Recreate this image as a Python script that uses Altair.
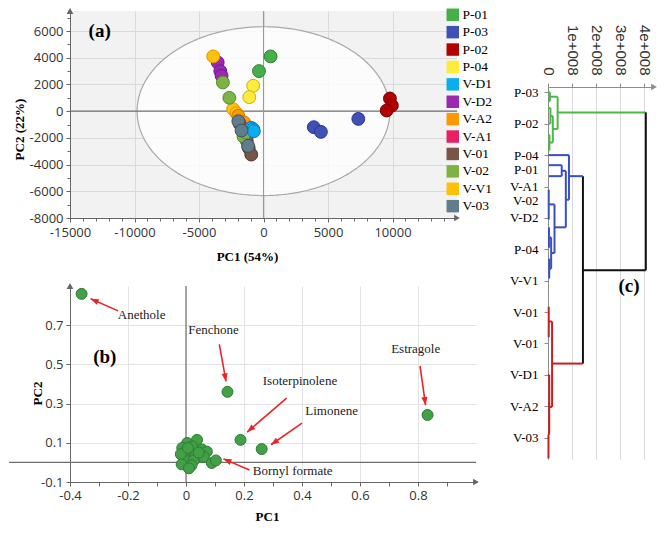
import json
import math
import numpy as np
import pandas as pd
import altair as alt

SANS = "Open Sans"
SERIF = "Liberation Serif"

# ---------------- Panel (a): PCA score plot ----------------
group_names = ["P-01", "P-03", "P-02", "P-04", "V-D1", "V-D2", "V-A2", "V-A1", "V-01", "V-02", "V-V1", "V-03"]
group_fill = ["#45B04A", "#3F51B5", "#B20000", "#FFEB3B", "#0AAEEF", "#9C27B0",
              "#FF9800", "#E91E63", "#795548", "#7CB342", "#FFC107", "#607D8B"]
group_edge = ["#2E7D32", "#283593", "#7A0000", "#C9B200", "#0277BD", "#6A1B9A",
              "#D86A00", "#AD1457", "#4E342E", "#558B2F", "#D99A00", "#3E535E"]

score_group = ["P-01", "P-01", "P-03", "P-03", "P-03", "P-02", "P-02", "P-02",
               "P-04", "P-04", "V-D2", "V-D2", "V-D2", "V-V1", "V-V1", "V-V1",
               "V-02", "V-02", "V-A2", "V-A2", "V-A1", "V-A1", "V-01", "V-01", "V-01",
               "V-02", "V-02", "V-D1", "V-D1", "V-D1", "V-03", "V-03", "V-03"]
score_pc1 = [550, -350, 3900, 4450, 7350, 9800, 9950, 9550,
             -800, -1100, -3550, -3350, -3250, -3900, -2350, -2100,
             -3150, -2650, -1950, -1500, -1850, -1600, -1300, -1150, -950,
             -1550, -1400, -950, -800, -750, -1950, -1700, -1200]
score_pc2 = [4100, 3000, -1200, -1550, -580, 950, 420, 50,
             1900, 1050, 3650, 3000, 2650, 4100, 150, -150,
             2150, 1000, -350, -850, -950, -1300, -2200, -2750, -3250,
             -1900, -1600, -1250, -1350, -1500, -750, -1450, -2600]

ellipse_semi_pc1 = 9800
ellipse_semi_pc2 = 6320

# ---------------- Panel (b): loadings ----------------
load_pc1 = [-0.36, 0.143, 0.188, 0.261, 0.833, 0.038, 0.004, -0.013, 0.021, 0.055,
            0.072, 0.05, 0.033, 0.016, 0.0, -0.006, -0.006, 0.008, 0.004, 0.027,
            0.061, 0.089, 0.103, -0.018, 0.007, 0.044, 0.019, -0.015, 0.01]
load_pc2 = [0.86, 0.36, 0.115, 0.068, 0.242, 0.115, 0.099, 0.074, 0.082, 0.066,
            0.055, 0.034, 0.026, 0.042, 0.058, 0.026, -0.003, -0.022, 0.006, 0.01,
            0.029, -0.003, 0.01, 0.042, 0.074, 0.05, -0.015, -0.01, -0.03]

ann_label = ["Anethole", "Fenchone", "Isoterpinolene", "Limonene", "Bornyl formate", "Estragole"]
ann_text_x = [-0.153, 0.095, 0.393, 0.502, 0.368, 0.792]
ann_text_y = [0.752, 0.676, 0.413, 0.26, -0.045, 0.58]
arrow_x1 = [-0.234, 0.115, 0.347, 0.40, 0.219, 0.807]
arrow_y1 = [0.773, 0.602, 0.328, 0.20, -0.039, 0.493]
arrow_x2 = [-0.329, 0.138, 0.211, 0.293, 0.129, 0.826]
arrow_y2 = [0.835, 0.413, 0.155, 0.09, 0.018, 0.292]

# ---------------- Panel (c): dendrogram (x in 1e8 units, y in leaf slots) ----------------
seg_x1 = [0.40, 0.40, 0.08, 0.08, 0.00, 0.02, 0.20, 0.20, 0.10, 0.10, 0.00, 0.03, 0.06, 0.06, 0.00, 0.00,
          4.06, 1.45, 1.45,
          0.87, 0.87, 0.02, 0.74, 0.74, 0.57, 0.57, 0.04, 0.04, 0.27, 0.27, 0.04, 0.03, 0.13, 0.13, 0.04, 0.05, 0.05, 0.04,
          0.17, 0.17, 0.03, 0.03, 0.03, 0.05, 0.02, 0.00, 0.00]
seg_x2 = [4.06, 0.40, 0.40, 0.08, 0.08, 0.08, 0.40, 0.20, 0.20, 0.10, 0.10, 0.10, 0.20, 0.06, 0.06, 0.06,
          4.06, 4.06, 1.45,
          1.45, 0.87, 0.87, 0.87, 0.74, 0.74, 0.57, 0.57, 0.57, 0.74, 0.27, 0.27, 0.03, 0.27, 0.13, 0.13, 0.13, 0.05, 0.04,
          1.45, 0.17, 0.17, 0.17, 0.03, 0.05, 0.02, 0.05, 0.05]
seg_k1 = [0.64, 0.14, 0.14, 0.00, 0.00, 0.28, 1.17, 0.75, 0.75, 0.50, 0.50, 1.00, 1.60, 1.35, 1.35, 1.85,
          0.64, 5.67, 2.67,
          2.67, 2.00, 2.00, 3.42, 2.50, 2.50, 2.32, 2.32, 2.67, 4.30, 3.57, 3.57, 3.10, 5.12, 4.62, 4.62, 5.62, 5.30, 4.30,
          8.64, 7.30, 7.30, 10.02, 6.83, 9.00, 10.90, 9.00, 10.90]
seg_k2 = [0.64, 1.17, 0.14, 0.28, 0.00, 0.28, 1.17, 1.60, 0.75, 1.00, 0.50, 1.00, 1.60, 1.85, 1.35, 1.85,
          5.67, 5.67, 8.64,
          2.67, 3.42, 2.00, 3.42, 4.30, 2.50, 2.67, 2.32, 2.67, 4.30, 5.12, 3.57, 4.05, 5.12, 5.62, 4.62, 5.62, 5.93, 4.95,
          8.64, 10.02, 7.30, 10.02, 7.80, 10.90, 11.66, 9.00, 10.90]
seg_branch = (["green"] * 16 + ["black"] * 3 + ["blue"] * 19 + ["red"] * 9)
branch_color = {"green": "#4DB848", "black": "#111111", "blue": "#3A4FC4", "red": "#C81E1E"}

leaf_pos = [0, 1, 2, 2.47, 3, 3.44, 4, 5, 6, 7, 8, 9, 10, 11]
leaf_name = ["P-03", "P-02", "P-04", "P-01", "V-A1", "V-02", "V-D2", "P-04", "V-V1", "V-01",
             "V-01", "V-D1", "V-A2", "V-03"]
dist_ticks = [0, 1e8, 2e8, 3e8, 4e8]

# ---------------- sizes ----------------
A_W, A_H = 387, 207
B_W, B_H = 406, 196
C_W, C_H = 106, 372

AXIS_GREY = "#666666"
NO_OVERLAP = {"expr": "false"}

# ================= Panel (a) =================
a_df = pd.DataFrame({"group": score_group, "pc1": score_pc1, "pc2": score_pc2})
xa = alt.Scale(domain=[-15000, 15000], nice=False, zero=False)
ya = alt.Scale(domain=[-8000, 7500], nice=False, zero=False)

a_xaxis = alt.Axis(
    values=list(range(-15000, 14001, 1000)),
    labelExpr="datum.value % 5000 === 0 ? '' + datum.value : ''",
    tickSize={"condition": {"test": "datum.value % 5000 === 0", "value": 4}, "value": 3},
    gridOpacity={"condition": {"test": "datum.value % 5000 === 0", "value": 1}, "value": 0},
    grid=True, gridColor="#dadada", domainColor=AXIS_GREY, tickColor=AXIS_GREY,
    labelFont=SANS, labelFontSize=13, labelColor="#333333", labelPadding=4,
    labelFlush=False, labelOverlap=NO_OVERLAP,
    title="PC1 (54%)", titleFont=SERIF, titleFontSize=13, titleFontWeight="bold",
    titleColor="black", titleX=177, titleY=38, titleBaseline="middle",
)
a_yaxis = alt.Axis(
    values=list(range(-8000, 7001, 1000)),
    labelExpr="datum.value % 2000 === 0 ? '' + datum.value : ''",
    tickSize={"condition": {"test": "datum.value % 2000 === 0", "value": 4}, "value": 3},
    gridOpacity={"condition": {"test": "datum.value % 2000 === 0", "value": 1}, "value": 0},
    grid=True, gridColor="#dadada", domainColor=AXIS_GREY, tickColor=AXIS_GREY,
    labelFont=SANS, labelFontSize=13, labelColor="#333333", labelPadding=3,
    labelFlush=False, labelOverlap=NO_OVERLAP,
    title="PC2 (22%)", titleFont=SERIF, titleFontSize=13, titleFontWeight="bold",
    titleColor="black", titleX=-51, titleY=118, titleBaseline="middle",
)

t_half = np.linspace(0, np.pi, 181)
ell_fill_df = pd.DataFrame({
    "x": ellipse_semi_pc1 * np.cos(t_half),
    "y": ellipse_semi_pc2 * np.sin(t_half),
    "y2": -ellipse_semi_pc2 * np.sin(t_half),
})
t_full = np.linspace(0, 2 * np.pi, 361)
ell_line_df = pd.DataFrame({
    "x": ellipse_semi_pc1 * np.cos(t_full),
    "y": ellipse_semi_pc2 * np.sin(t_full),
    "i": np.arange(len(t_full)),
})

a_axes_layer = alt.Chart(pd.DataFrame({"x": [0], "y": [0]})).mark_point(opacity=0).encode(
    x=alt.X("x:Q", scale=xa, axis=a_xaxis),
    y=alt.Y("y:Q", scale=ya, axis=a_yaxis),
)
a_ell_fill = alt.Chart(ell_fill_df).mark_area(color="white", opacity=0.78).encode(
    x=alt.X("x:Q", scale=xa, axis=a_xaxis), y=alt.Y("y:Q", scale=ya, axis=a_yaxis), y2="y2:Q"
)
a_ell_line = alt.Chart(ell_line_df).mark_line(color="#a8a8a8", strokeWidth=1.2).encode(
    x=alt.X("x:Q", scale=xa, axis=a_xaxis), y=alt.Y("y:Q", scale=ya, axis=a_yaxis), order="i:Q"
)
a_zero_h = alt.Chart(pd.DataFrame({"y": [0]})).mark_rule(color="#6e6e6e", strokeWidth=1.3).encode(
    y=alt.Y("y:Q", scale=ya, axis=a_yaxis)
)
a_zero_v = alt.Chart(pd.DataFrame({"x": [0]})).mark_rule(color="#9a9a9a", strokeWidth=1.1).encode(
    x=alt.X("x:Q", scale=xa, axis=a_xaxis)
)
a_points = alt.Chart(a_df).mark_circle(size=165, opacity=1, strokeWidth=1).encode(
    x=alt.X("pc1:Q", scale=xa, axis=a_xaxis),
    y=alt.Y("pc2:Q", scale=ya, axis=a_yaxis),
    fill=alt.Fill("group:N", scale=alt.Scale(domain=group_names, range=group_fill),
                  legend=alt.Legend(title=None, orient="none", legendX=376, legendY=-3,
                                    symbolType="square", symbolSize=155, symbolStrokeWidth=0,
                                    symbolOpacity=1, labelFont=SERIF, labelFontSize=13.5,
                                    labelColor="black", rowPadding=2.4, padding=0, labelOffset=3)),
    stroke=alt.Stroke("group:N", scale=alt.Scale(domain=group_names, range=group_edge), legend=None),
)
a_arrows = alt.Chart(pd.DataFrame({"x": [-15000, 15000], "y": [7500, -8000],
                                   "s": ["triangle-up", "triangle-right"]})).mark_point(
    filled=True, opacity=1, color=AXIS_GREY, size=45).encode(
    x=alt.X("x:Q", scale=xa, axis=a_xaxis), y=alt.Y("y:Q", scale=ya, axis=a_yaxis),
    shape=alt.Shape("s:N", scale=None),
)
a_tag = alt.Chart(pd.DataFrame({"x": [-12700], "y": [6000], "t": ["(a)"]})).mark_text(
    font=SERIF, fontSize=19, fontWeight="bold", color="black").encode(
    x=alt.X("x:Q", scale=xa, axis=a_xaxis), y=alt.Y("y:Q", scale=ya, axis=a_yaxis), text="t:N"
)

a_chart = alt.layer(a_axes_layer, a_ell_fill, a_ell_line, a_zero_h, a_zero_v, a_points,
                    a_arrows, a_tag).properties(
    width=A_W, height=A_H, view=alt.ViewBackground(fill="#F2F2F2", strokeWidth=0))

# ================= Panel (b) =================
xb = alt.Scale(domain=[-0.4, 1.0], nice=False, zero=False)
yb = alt.Scale(domain=[-0.1, 0.9], nice=False, zero=False)
b_xvals = [-0.4, -0.3, -0.2, -0.1, 0, 0.1, 0.2, 0.3, 0.4, 0.5, 0.6, 0.7, 0.8, 0.9]
b_yvals = [-0.1, 0.1, 0.3, 0.5, 0.7]

b_xaxis = alt.Axis(
    values=b_xvals,
    labelExpr="abs(round(datum.value * 10)) % 2 === 0 ? '' + datum.value : ''",
    tickSize=4,
    gridOpacity={"condition": {"test": "abs(round(datum.value * 10)) % 2 === 0", "value": 1}, "value": 0},
    grid=True, gridColor="#e3e3e3", domainColor=AXIS_GREY, tickColor=AXIS_GREY,
    labelFont=SANS, labelFontSize=13, labelColor="#333333", labelPadding=3,
    labelFlush=False, labelOverlap=NO_OVERLAP,
    title="PC1", titleFont=SERIF, titleFontSize=13, titleFontWeight="bold",
    titleColor="black", titleX=197, titleY=34, titleBaseline="middle",
)
b_yaxis = alt.Axis(
    values=b_yvals, labelExpr="'' + datum.value", tickSize=4,
    grid=True, gridColor="#e3e3e3", domainColor=AXIS_GREY, tickColor=AXIS_GREY,
    labelFont=SANS, labelFontSize=13, labelColor="#333333", labelPadding=3,
    labelFlush=False, labelOverlap=NO_OVERLAP,
    title="PC2", titleFont=SERIF, titleFontSize=13, titleFontWeight="bold",
    titleColor="black", titleX=-33, titleY=107, titleBaseline="middle",
)

b_df = pd.DataFrame({"pc1": load_pc1, "pc2": load_pc2})
b_axes_layer = alt.Chart(pd.DataFrame({"x": [0], "y": [0]})).mark_point(opacity=0).encode(
    x=alt.X("x:Q", scale=xb, axis=b_xaxis), y=alt.Y("y:Q", scale=yb, axis=b_yaxis)
)
b_zero_h = alt.Chart(pd.DataFrame({"x": [-0.61], "x2": [1.0], "y": [0]})).mark_rule(
    color="#6e6e6e", strokeWidth=1.3).encode(
    x=alt.X("x:Q", scale=xb, axis=b_xaxis), x2="x2:Q", y=alt.Y("y:Q", scale=yb, axis=b_yaxis)
)
b_zero_v = alt.Chart(pd.DataFrame({"x": [0]})).mark_rule(color="#7a7a7a", strokeWidth=1.3).encode(
    x=alt.X("x:Q", scale=xb, axis=b_xaxis)
)
b_points = alt.Chart(b_df).mark_circle(size=120, opacity=1, fill="#43A047", stroke="#2E7D32",
                                       strokeWidth=1).encode(
    x=alt.X("pc1:Q", scale=xb, axis=b_xaxis), y=alt.Y("pc2:Q", scale=yb, axis=b_yaxis)
)

px_per_x = B_W / 1.4
px_per_y = B_H / 1.0
arrow_angle = []
for i in range(len(arrow_x1)):
    dx = (arrow_x2[i] - arrow_x1[i]) * px_per_x
    dy = -(arrow_y2[i] - arrow_y1[i]) * px_per_y
    arrow_angle.append(math.degrees(math.atan2(dx, -dy)) % 360)

ann_df = pd.DataFrame({
    "label": ann_label, "tx": ann_text_x, "ty": ann_text_y,
    "x1": arrow_x1, "y1": arrow_y1, "x2": arrow_x2, "y2": arrow_y2, "ang": arrow_angle,
})
b_lines = alt.Chart(ann_df).mark_rule(color="#E8262A", strokeWidth=1.6).encode(
    x=alt.X("x1:Q", scale=xb, axis=b_xaxis), y=alt.Y("y1:Q", scale=yb, axis=b_yaxis),
    x2="x2:Q", y2="y2:Q"
)
b_heads = alt.Chart(ann_df).mark_point(
    shape="M0,0 L0.65,1.7 L-0.65,1.7 Z", filled=True, opacity=1, color="#E8262A", size=90).encode(
    x=alt.X("x2:Q", scale=xb, axis=b_xaxis), y=alt.Y("y2:Q", scale=yb, axis=b_yaxis),
    angle=alt.Angle("ang:Q", scale=None)
)
b_text = alt.Chart(ann_df).mark_text(font=SERIF, fontSize=13, color="#222222").encode(
    x=alt.X("tx:Q", scale=xb, axis=b_xaxis), y=alt.Y("ty:Q", scale=yb, axis=b_yaxis), text="label:N"
)
b_arrows = alt.Chart(pd.DataFrame({"x": [-0.4, 1.0], "y": [0.9, -0.1],
                                   "s": ["triangle-up", "triangle-right"]})).mark_point(
    filled=True, opacity=1, color=AXIS_GREY, size=45).encode(
    x=alt.X("x:Q", scale=xb, axis=b_xaxis), y=alt.Y("y:Q", scale=yb, axis=b_yaxis),
    shape=alt.Shape("s:N", scale=None)
)
b_tag = alt.Chart(pd.DataFrame({"x": [-0.28], "y": [0.54], "t": ["(b)"]})).mark_text(
    font=SERIF, fontSize=19, fontWeight="bold", color="black").encode(
    x=alt.X("x:Q", scale=xb, axis=b_xaxis), y=alt.Y("y:Q", scale=yb, axis=b_yaxis), text="t:N"
)

b_chart = alt.layer(b_axes_layer, b_zero_h, b_zero_v, b_points, b_lines, b_heads, b_text,
                    b_arrows, b_tag).properties(
    width=B_W, height=B_H, view=alt.ViewBackground(fill="white", strokeWidth=0))

# ================= Panel (c) =================
xc = alt.Scale(domain=[0, 4.4e8], nice=False, zero=False)
yc = alt.Scale(domain=[-0.17, 11.68], nice=False, zero=False, reverse=True)

c_xaxis = alt.Axis(
    orient="top", values=dist_ticks, labelAngle=90,
    labelExpr="datum.value === 0 ? '0' : (datum.value / 1e8) + 'e+008'",
    grid=True, gridColor="#d9d9d9", domainColor="#8c8c8c", tickColor="#8c8c8c", tickSize=4,
    labelFont="Liberation Sans", labelFontSize=15, labelColor="#333333", labelPadding=8,
    labelFlush=False, labelOverlap=NO_OVERLAP, title=None,
)
leaf_expr = "{}[indexof({}, datum.value)]".format(json.dumps(leaf_name), json.dumps(leaf_pos))
c_yaxis = alt.Axis(
    values=leaf_pos, labelExpr=leaf_expr, grid=False,
    tickOpacity={"condition": {"test": "datum.value === 2.47 || datum.value === 3.44", "value": 0},
                 "value": 1},
    tickSize=4, domainColor="#8c8c8c", tickColor="#8c8c8c",
    labelFont=SERIF, labelFontSize=13, labelColor="black", labelPadding=6,
    labelFlush=False, labelOverlap=NO_OVERLAP, title=None,
)

seg_df = pd.DataFrame({
    "x1": np.array(seg_x1) * 1e8, "x2": np.array(seg_x2) * 1e8,
    "k1": seg_k1, "k2": seg_k2,
    "col": [branch_color[b] for b in seg_branch],
})
c_axes_layer = alt.Chart(pd.DataFrame({"x": [0], "y": [0]})).mark_point(opacity=0).encode(
    x=alt.X("x:Q", scale=xc, axis=c_xaxis), y=alt.Y("y:Q", scale=yc, axis=c_yaxis)
)
c_segs = alt.Chart(seg_df).mark_rule(strokeWidth=2).encode(
    x=alt.X("x1:Q", scale=xc, axis=c_xaxis), x2="x2:Q",
    y=alt.Y("k1:Q", scale=yc, axis=c_yaxis), y2="k2:Q",
    color=alt.Color("col:N", scale=None),
)
c_arrow = alt.Chart(pd.DataFrame({"x": [4.4e8], "y": [-0.17]})).mark_point(
    shape="triangle-right", filled=True, opacity=1, color="#8c8c8c", size=45).encode(
    x=alt.X("x:Q", scale=xc, axis=c_xaxis), y=alt.Y("y:Q", scale=yc, axis=c_yaxis)
)
c_tag = alt.Chart(pd.DataFrame({"x": [3.36e8], "y": [6.17], "t": ["(c)"]})).mark_text(
    font=SERIF, fontSize=19, fontWeight="bold", color="black").encode(
    x=alt.X("x:Q", scale=xc, axis=c_xaxis), y=alt.Y("y:Q", scale=yc, axis=c_yaxis), text="t:N"
)
c_chart = alt.layer(c_axes_layer, c_segs, c_arrow, c_tag).properties(
    width=C_W, height=C_H, view=alt.ViewBackground(fill="white", strokeWidth=0))

spacer = alt.Chart(pd.DataFrame({"v": [0]})).mark_point(opacity=0).encode(
    x=alt.X("v:Q", axis=None), y=alt.Y("v:Q", axis=None)
).properties(width=1, height=13)

chart = alt.hconcat(
    alt.vconcat(a_chart, b_chart, spacing=20),
    alt.vconcat(spacer, c_chart, spacing=0),
    spacing=30,
).properties(
    padding={"left": 0, "top": 0, "right": 0, "bottom": 0}
).configure_view(strokeWidth=0).configure_axis(labelOverlap=False)

chart.save("out.html", embed_options={"renderer": "svg", "actions": False})
